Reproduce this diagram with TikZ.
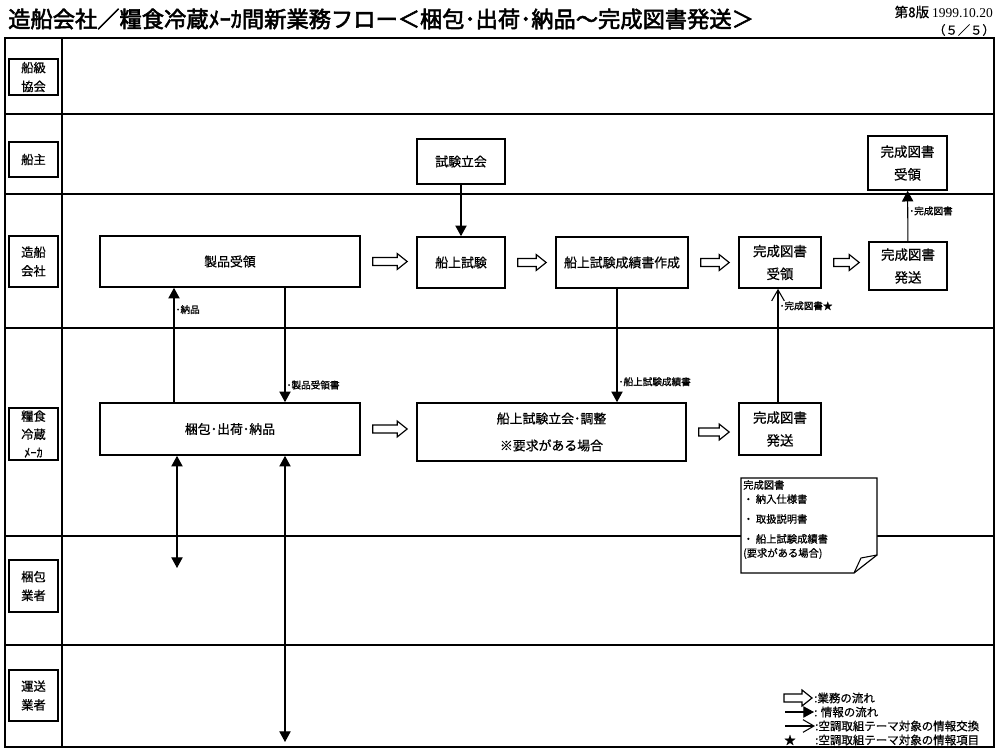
\documentclass[tikz,border=0pt]{standalone}
\usepackage{fontspec}
\setmainfont{Noto Sans CJK JP}[FakeBold=0.7]
\newfontfamily\titlefont[FakeBold=2.5]{Noto Sans CJK JP}
\newfontfamily\tagfont[FakeBold=1.2]{Noto Sans CJK JP}
\newfontfamily\datefont{Liberation Serif}
\usetikzlibrary{arrows.meta, positioning, calc}

% hollow business-flow arrow from (ta-s) to its tip (ta-e)
\newcommand{\taskarrowbody}{%
  \draw[taskflow] ($(ta-s)+(0,-4)$) -- ($(ta-e)+(-10,-4)$) -- ($(ta-e)+(-10,-8)$) -- (ta-e)
    -- ($(ta-e)+(-10,8)$) -- ($(ta-e)+(-10,4)$) -- ($(ta-s)+(0,4)$) -- cycle;}
\newcommand{\taskarrow}[2]{%
  \path (#1.east) ++(12,0) coordinate (ta-s);
  \path (#2.west |- ta-s) ++(-9,0) coordinate (ta-e);
  \taskarrowbody}

\begin{document}
\begin{tikzpicture}[
    x = 0.3mm, y = -0.3mm,
    > = {Triangle[length=3.2mm, width=3.4mm]},
    boxsize/.style 2 args = {minimum width=#1*0.3mm, minimum height=#2*0.3mm},
    frame/.style    = {line width=1.1pt},
    lanebox/.style  = {draw, line width=1.1pt, inner sep=0pt, align=center,
                       font=\fontsize{10.5}{16}\selectfont},
    box/.style      = {draw, line width=1.4pt, inner sep=0pt, align=center,
                       font=\fontsize{11}{19.5}\selectfont},
    bigbox/.style   = {box, font=\fontsize{11.5}{19.5}\selectfont},
    taskflow/.style = {draw, line width=1pt, fill=white, line join=miter},
    info/.style     = {->, line width=0.9pt},
    infoboth/.style = {<->, line width=0.9pt},
    xinfo/.style    = {-{Straight Barb[length=3.3mm, width=3.8mm]}, line width=0.9pt},
    tag/.style      = {font=\tagfont\fontsize{8.2}{9}\selectfont, inner sep=1pt, anchor=west},
    legend/.style   = {font=\fontsize{9.8}{11}\selectfont, inner sep=0pt, anchor=west},
    docnote/.style  = {draw, line width=1pt, fill=white, line join=miter},
]
\useasboundingbox (0,0) rectangle (1000,753);

% --------------------------------------------- heading -------------------------------------------
\node[anchor=west, inner sep=0pt, font=\titlefont\fontsize{19}{19}\selectfont] (title) at (8,19)
    {造船会社／糧食冷蔵ﾒｰｶ間新業務フロー＜梱包･出荷･納品～完成図書発送＞};
\node[anchor=east, inner sep=0pt, font=\fontsize{11.5}{12}\selectfont] (version) at (993,12)
    {第8版 {\datefont 1999.10.20}};
\node[anchor=east, inner sep=0pt, font=\fontsize{10.5}{12}\selectfont] (page) at (995,30) {（５／５）};

% ---------------------------------------------- lanes --------------------------------------------
\draw[frame] (5,38) rectangle (994,747);
\draw[frame] (62,38) -- (62,747);
\foreach \y in {114,194,328,536,645}
    \draw[frame] (5,\y) -- (994,\y);

\node[lanebox, boxsize={49}{36}] (l-class)  at (33.5,77)    {船級\\協会};
\node[lanebox, boxsize={49}{35}] (l-owner)  at (33.5,159.5) {船主};
\node[lanebox, boxsize={49}{51}] (l-yard)   at (33.5,261.5) {造船\\会社};
\node[lanebox, boxsize={49}{52}, font=\fontsize{10.5}{15.5}\selectfont]
                                 (l-maker)  at (33.5,434)   {糧食\\冷蔵\\ﾒｰｶ};
\node[lanebox, boxsize={49}{52}] (l-pack)   at (33.5,586)   {梱包\\業者};
\node[lanebox, boxsize={49}{51}] (l-carry)  at (33.5,695.5) {運送\\業者};

% ---------------------------------------------- boxes --------------------------------------------
\node[box, boxsize={88}{45}]     (witness) at (461,161.5)   {試験立会};
\node[bigbox, boxsize={79}{54}]  (ownrecv) at (907.5,163)   {完成図書\\受領};

\node[box, boxsize={260}{51}]    (recv)    at (230,261.5)   {製品受領};
\node[box, boxsize={88}{51}]     (seatest) at (461,262.5)   {船上試験};
\node[box, boxsize={132}{51}]    (report)  at (622,262.5)   {船上試験成績書作成};
\node[bigbox, boxsize={82}{51}]  (docrecv) at (780,262.5)   {完成図書\\受領};
\node[bigbox, boxsize={78}{48}]  (docsend) at (908,266)     {完成図書\\発送};

\node[box, boxsize={260}{52}]    (pack)    at (230,429)     {梱包･出荷･納品};
\node[box, boxsize={269}{58}]    (attend)  at (551.5,432)   {船上試験立会･調整\\[3.5pt]※要求がある場合};
\node[bigbox, boxsize={82}{52}]  (mkrsend) at (780,429)     {完成図書\\発送};

% ------------------------------------------ business flow -----------------------------------------
\taskarrow{recv}{seatest}
\taskarrow{seatest}{report}
\taskarrow{report}{docrecv}
\taskarrow{docrecv}{docsend}
\taskarrow{pack}{attend}
\taskarrow{attend}{mkrsend}

% -------------------------------------------- information -----------------------------------------
\coordinate (x-nohin)   at (174,0);
\coordinate (x-juryo)   at (285,0);
\coordinate (x-seiseki) at (617,0);
\coordinate (x-tosho)   at (778,0);
\coordinate (kon-end)   at (177,568);
\coordinate (un-end)    at (285,742);

\draw[info] (witness) -- (seatest);
\draw[info] (docsend) -- node[tag, pos=0.6] {･完成図書} (ownrecv);
\draw[info] (pack.north -| x-nohin) -- node[tag, pos=0.81] {･納品} (recv.south -| x-nohin);
\draw[info] (recv.south -| x-juryo) -- node[tag, pos=0.85] {･製品受領書} (pack.north -| x-juryo);
\draw[info] (report.south -| x-seiseki) -- node[tag, pos=0.82] {･船上試験成績書} (attend.north -| x-seiseki);
\draw[xinfo] (mkrsend.north -| x-tosho) -- node[tag, pos=0.85] {･完成図書★} (docrecv.south -| x-tosho);
\draw[infoboth] (pack.south -| kon-end) -- (kon-end);
\draw[infoboth] (pack.south -| un-end) -- (un-end);

% ------------------------------------------- document note ----------------------------------------
\draw[docnote] (741,478) -- (877,478) -- (877,555) -- (854,573) -- (741,573) -- cycle;
\draw[line width=0.9pt] (854,573) .. controls (858,566) .. (861,558) -- (877,555);
\node[anchor=north west, align=left, inner sep=0pt, font=\fontsize{8.8}{12}\selectfont] (docs) at (743,480)
    {完成図書\\・ 納入仕様書\\[5pt]・ 取扱説明書\\[5pt]・ 船上試験成績書\\(要求がある場合)};

% ---------------------------------------------- legend --------------------------------------------
\node[legend] (leg1) at (814,698) {:業務の流れ};
\node[legend] (leg2) at (814,712) {: 情報の流れ};
\node[legend] (leg3) at (815,726) {:空調取組テーマ対象の情報交換};
\node[legend] (leg4) at (815,740) {:空調取組テーマ対象の情報項目};
\node[inner sep=0pt, font=\fontsize{10}{10}\selectfont] (leg-star) at (790,740) {★};

\coordinate (ta-s) at (784,698);
\path (leg1.west) ++(-2,0) coordinate (ta-e);
\taskarrowbody
\coordinate (leg2-tail) at (785,712);
\coordinate (leg3-tail) at (785,726);
\draw[info]  (leg2-tail) -- (leg2.west);
\draw[xinfo] (leg3-tail) -- (leg3.west);

\end{tikzpicture}
\end{document}
